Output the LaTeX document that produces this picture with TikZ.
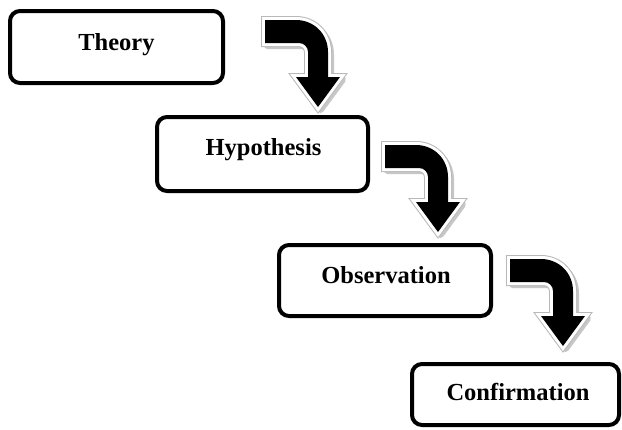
\documentclass[tikz,border=0pt]{standalone}
\usepackage{fontspec}
\setmainfont{Liberation Serif}
\tikzset{
  box/.style={draw=black, line width=4pt, rounded corners=10pt, fill=white, inner sep=0pt},
  lbl/.style={font=\fontsize{24.5}{29}\selectfont\bfseries, anchor=base, inner sep=0pt},
  bentarrow/.pic={
    \def\shp{(0,0) -- (31,0) .. controls (49,0) and (63,14) .. (63,32) -- (63,57) -- (75,57) -- (53,87) -- (31,57) -- (43,57) -- (43,32) .. controls (43,27) and (39,23) .. (34,23) -- (0,23) -- cycle}
    \path[fill=black!22, draw=black!22, line width=7pt, line join=round, shift={(2.5,2.5)}] (0,0) -- (31,0) .. controls (49,0) and (63,14) .. (63,32) -- (63,57) -- (75,57) -- (53,87) -- (31,57) -- (43,57) -- (43,32) .. controls (43,27) and (39,23) .. (34,23) -- (0,23) -- cycle;
    \path[fill=white, draw=black!28, line width=8pt, line join=miter] (0,0) -- (31,0) .. controls (49,0) and (63,14) .. (63,32) -- (63,57) -- (75,57) -- (53,87) -- (31,57) -- (43,57) -- (43,32) .. controls (43,27) and (39,23) .. (34,23) -- (0,23) -- cycle;
    \path[draw=white, line width=6pt, line join=miter] (0,0) -- (31,0) .. controls (49,0) and (63,14) .. (63,32) -- (63,57) -- (75,57) -- (53,87) -- (31,57) -- (43,57) -- (43,32) .. controls (43,27) and (39,23) .. (34,23) -- (0,23) -- cycle;
    \fill[black] (0,0) -- (31,0) .. controls (49,0) and (63,14) .. (63,32) -- (63,57) -- (75,57) -- (53,87) -- (31,57) -- (43,57) -- (43,32) .. controls (43,27) and (39,23) .. (34,23) -- (0,23) -- cycle;
  }
}
\begin{document}
\begin{tikzpicture}[x=1pt,y=-1pt]
\useasboundingbox[fill=white] (0,0) rectangle (622,429);
% boxes
\node[box, minimum width=213pt, minimum height=72pt] (theory) at (116.5,47) {};
\node[box, minimum width=211pt, minimum height=74pt] (hypothesis) at (262.5,154) {};
\node[box, minimum width=212pt, minimum height=71pt] (observation) at (385,280.5) {};
\node[box, minimum width=207pt, minimum height=61pt] (confirmation) at (515.5,394.5) {};
% labels
\node[lbl] (ltheory) at (116.5,50) {Theory};
\node[lbl] (lhypothesis) at (263.5,155) {Hypothesis};
\node[lbl] (lobservation) at (386,283) {Observation};
\node[lbl] (lconfirmation) at (518,400) {Confirmation};
% bent arrows
\coordinate (a1) at (265,20);
\coordinate (a2) at (385,145);
\coordinate (a3) at (510,259);
\pic at (a1) {bentarrow};
\pic at (a2) {bentarrow};
\pic at (a3) {bentarrow};
\end{tikzpicture}
\end{document}
